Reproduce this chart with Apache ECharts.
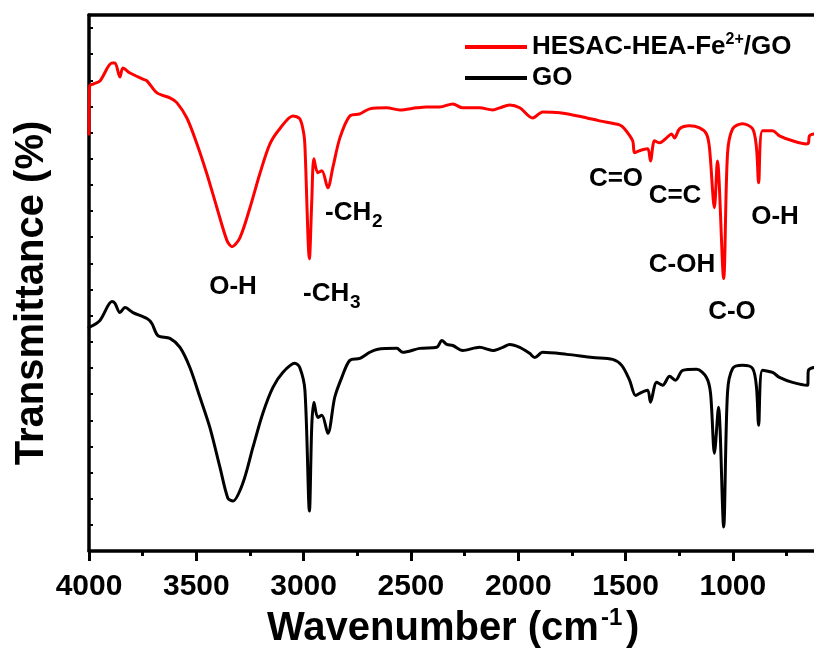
<!DOCTYPE html>
<html><head><meta charset="utf-8">
<script src="https://cdn.jsdelivr.net/npm/echarts@6/dist/echarts.min.js"></script>
<style>html,body{margin:0;padding:0;background:#fff}#c{width:814px;height:649px}</style>
</head><body><div id="c"></div>
<script>
const FONT = 'Liberation Sans, Arial, Helvetica, sans-serif';
const seriesNames = ['HESAC-HEA-Fe2+/GO', 'GO'];
const redWn = [4000,3997,3981,3949,3893,3879,3856,3842,3809,3749,3730,3683,3623,3590,3544,3497,3451,3404,3357,3334,3297,3250,3204,3157,3111,3050,3018,3000,2994,2973,2962,2952,2934,2915,2887,2864,2831,2785,2738,2692,2613,2552,2473,2430,2366,2305,2259,2180,2119,2086,2040,1993,1933,1886,1807,1700,1621,1528,1505,1467,1458,1435,1397,1384,1365,1341,1309,1286,1272,1248,1202,1155,1123,1109,1086,1072,1043,1025,1001,955,908,890,880,862,815,783,722,657,648,643,624];
const redT  = [15.95,17.79,17.86,17.98,18.66,18.66,18.13,18.47,18.28,18.05,17.98,17.52,17.33,17.14,16.56,15.57,14.43,13.13,11.87,11.64,11.98,13.13,14.43,15.57,16.15,16.64,16.53,16.0,15.5,11.18,13.40,15.00,14.47,14.54,13.89,14.66,15.80,16.64,16.72,16.91,16.95,16.87,16.95,16.98,16.98,17.10,16.95,16.95,16.87,16.95,17.06,16.95,16.56,16.79,16.76,16.60,16.45,16.30,16.15,15.69,15.23,15.31,15.38,14.92,15.69,15.61,15.80,15.95,15.80,16.15,16.26,16.18,15.95,15.42,13.13,14.92,10.42,15.19,16.15,16.34,16.15,15.42,14.08,16.07,16.07,15.88,15.69,15.57,15.6,15.88,15.95];
const blackWn = [4000,3949,3893,3879,3856,3832,3795,3730,3707,3679,3623,3576,3530,3483,3437,3390,3353,3330,3283,3236,3190,3143,3097,3041,3018,2994,2973,2962,2952,2934,2915,2887,2855,2822,2785,2738,2692,2659,2566,2538,2459,2380,2356,2333,2305,2259,2180,2119,2072,2040,1993,1947,1923,1886,1774,1653,1560,1518,1481,1453,1425,1397,1384,1355,1327,1295,1267,1234,1169,1123,1104,1086,1067,1043,1025,1001,955,908,890,880,862,815,783,722,652,648,624];
const blackT  = [8.55,8.82,9.54,9.47,9.12,9.31,9.12,8.89,8.70,8.24,8.13,7.79,7.02,5.88,4.73,3.21,2.02,1.91,2.60,3.97,5.27,6.26,6.83,7.18,7.02,6.15,1.53,4.80,5.69,5.11,5.19,4.50,5.88,6.64,7.29,7.37,7.60,7.71,7.75,7.60,7.75,7.79,8.05,7.90,7.86,7.67,7.79,7.67,7.79,7.90,7.79,7.56,7.40,7.60,7.52,7.40,7.33,7.10,6.53,5.95,6.07,6.15,5.69,6.45,6.34,6.68,6.53,6.91,6.95,6.64,6.03,3.74,5.50,0.92,6.07,6.98,7.10,6.98,6.26,4.81,6.91,6.83,6.64,6.45,6.34,6.91,7.02];
const xMajorTicks = [4000,3500,3000,2500,2000,1500,1000];
const xMinorTicks = [3750,3250,2750,2250,1750,1250,750];
const X_MIN = 622, X_MAX = 4000;

const zip = (a, b) => a.map((v, i) => [v, b[i]]);
const chart = echarts.init(document.getElementById('c'), null, {renderer: 'canvas'});

function txt(x, y, s, size, align, extra) {
  return Object.assign({
    type: 'text', x: x, y: y, silent: true,
    style: {text: s, font: 'bold ' + size + 'px ' + FONT, fill: '#000', align: align || 'center', verticalAlign: 'middle'}
  }, extra || {});
}

chart.setOption({
  animation: false,
  backgroundColor: '#fff',
  grid: {left: 89, top: 15, right: 0, bottom: 98, containLabel: false},
  xAxis: [{
    type: 'value', inverse: true, min: X_MIN, max: X_MAX,
    axisLine: {show: true, onZero: false, lineStyle: {color: '#000', width: 3.5}},
    axisTick: {show: true, inside: false, length: 10, customValues: xMajorTicks, lineStyle: {color: '#000', width: 3}},
    splitLine: {show: false},
    axisLabel: {margin: 21, color: '#000', fontSize: 30, fontWeight: 'bold', fontFamily: FONT,
      customValues: xMajorTicks, formatter: v => String(Math.round(v))}
  }, {
    type: 'value', inverse: true, min: X_MIN, max: X_MAX, position: 'top',
    axisLine: {show: true, onZero: false, lineStyle: {color: '#000', width: 3.5}},
    axisTick: {show: false}, axisLabel: {show: false}, splitLine: {show: false}
  }, {
    type: 'value', inverse: true, min: X_MIN, max: X_MAX, position: 'bottom',
    axisLine: {show: false, onZero: false},
    axisTick: {show: true, inside: false, length: 5, customValues: xMinorTicks, lineStyle: {color: '#000', width: 3}},
    axisLabel: {show: false}, splitLine: {show: false}
  }],
  yAxis: {
    type: 'value', min: 0, max: 20.5, interval: 1,
    axisLine: {show: true, lineStyle: {color: '#000', width: 3.5}},
    axisTick: {show: true, inside: true, length: 4, lineStyle: {color: '#000', width: 2}},
    axisLabel: {show: false}, splitLine: {show: false}
  },
  legend: {
    orient: 'vertical', left: 460, top: 27, itemWidth: 62, itemHeight: 4, itemGap: 5, icon: 'rect',
    data: seriesNames,
    formatter: n => n === 'GO' ? '{a|GO}' : '{a|HESAC-HEA-Fe}{s|2+}{a|/GO}',
    textStyle: {color: '#000', rich: {
      a: {fontSize: 26, fontWeight: 'bold', fontFamily: FONT, color: '#000', lineHeight: 30},
      s: {fontSize: 16, fontWeight: 'bold', fontFamily: FONT, color: '#000', verticalAlign: 'top', lineHeight: 30}
    }}
  },
  series: [{
    name: seriesNames[0], type: 'line', data: zip(redWn, redT), showSymbol: false, symbol: 'none',
    smooth: 0.3, clip: true,
    lineStyle: {color: '#ff0000', width: 3, join: 'round', cap: 'round'}, itemStyle: {color: '#ff0000'}, z: 3
  }, {
    name: seriesNames[1], type: 'line', data: zip(blackWn, blackT), showSymbol: false, symbol: 'none',
    smooth: 0.3, clip: true,
    lineStyle: {color: '#000', width: 3, join: 'round', cap: 'round'}, itemStyle: {color: '#000'}, z: 3
  }],
  graphic: [
    txt(32, 293, 'Transmittance (%)', 40, 'center', {rotation: Math.PI / 2}),
    txt(267, 629, 'Wavenumber (cm', 40, 'left'),
    txt(601, 618, '-1', 24, 'left'),
    txt(626, 629, ')', 40, 'left'),
    txt(233, 287, 'O-H', 26),
    txt(303, 293.5, '-CH', 26, 'left'),
    txt(350, 303, '3', 19, 'left'),
    txt(325, 213, '-CH', 26, 'left'),
    txt(372, 222, '2', 19, 'left'),
    txt(616, 179, 'C=O', 26),
    txt(675, 196, 'C=C', 26),
    txt(682, 265, 'C-OH', 26),
    txt(775, 217, 'O-H', 26),
    txt(732, 312, 'C-O', 26)
  ]
});
</script></body></html>
